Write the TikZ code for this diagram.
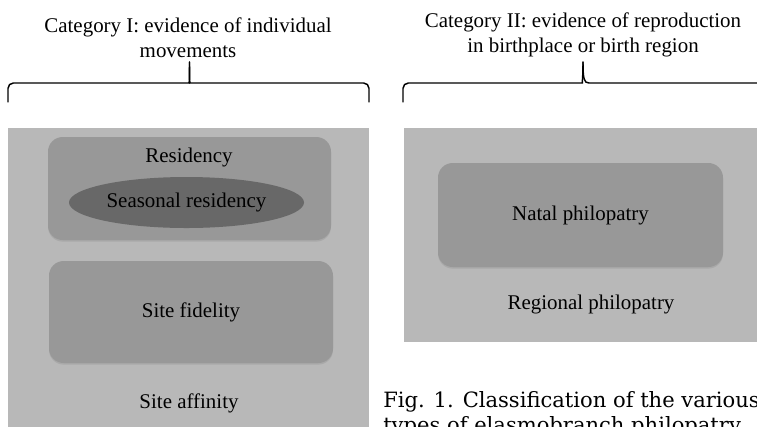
\documentclass[tikz,border=0pt]{standalone}
\usepackage{fontspec}
\setmainfont{Liberation Serif}
\newfontfamily\capfont{DejaVu Serif}
\usetikzlibrary{shadows,shapes.geometric}
\definecolor{panelgray}{RGB}{184,184,184}
\definecolor{boxgray}{RGB}{152,152,152}
\definecolor{ovalgray}{RGB}{104,104,104}
\begin{document}
\begin{tikzpicture}[x=0.75pt,y=-0.75pt,
    panel/.style={fill=panelgray,draw=none,inner sep=0pt},
    roundbox/.style={fill=boxgray,rounded corners=11pt,inner sep=0pt,
      drop shadow={shadow xshift=0pt,shadow yshift=-1.2pt,opacity=0.25}},
    label/.style={font=\fontsize{15.7}{18.8}\selectfont,align=center,inner sep=0pt},
    bracket/.style={line width=1.1pt,line cap=round}]
    \useasboundingbox (0,0) rectangle (757,426);
    \clip (0,0) rectangle (757,426);
    % headings
    \node[label] (headone) at (188,38) {Category I: evidence of individual\\movements};
    \node[label] (headtwo) at (583,35) {Category II: evidence of reproduction\\in birthplace or birth region};
    % braces
    \draw[bracket,rounded corners=4pt] (8,102) -- (8,83) -- (184,83) .. controls (189,83) and (189.5,79) .. (189.5,62);
    \draw[bracket,rounded corners=4pt] (369,102) -- (369,83) -- (195,83) .. controls (190,83) and (189.5,79) .. (189.5,62);
    \draw[bracket,rounded corners=4pt] (403,102) -- (403,83) -- (577,83) .. controls (582,83) and (583,79) .. (583,62);
    \draw[bracket] (800,83) -- (589,83) .. controls (584,83) and (583,79) .. (583,62);
    % category I
    \node[panel,minimum width=361*0.75pt,minimum height=312*0.75pt] (catone) at (188.5,284) {};
    \node[roundbox,minimum width=283*0.75pt,minimum height=103*0.75pt] (residency) at (189.5,188.5) {};
    \node[label] (restext) at (189,157) {Residency};
    \node[ellipse,fill=ovalgray,draw=none,inner sep=0pt,minimum width=235*0.75pt,minimum height=51*0.75pt,
      font=\fontsize{15.7}{18.8}\selectfont] (seasonal) at (186.5,202.5) {Seasonal residency};
    \node[roundbox,minimum width=284*0.75pt,minimum height=102*0.75pt,
      font=\fontsize{15.7}{18.8}\selectfont] (fidelity) at (191,312) {Site fidelity};
    \node[label] (affinity) at (189,403) {Site affinity};
    % category II
    \node[panel,minimum width=376*0.75pt,minimum height=214*0.75pt] (cattwo) at (592,235) {};
    \node[roundbox,minimum width=285*0.75pt,minimum height=104*0.75pt,
      font=\fontsize{15.7}{18.8}\selectfont] (natal) at (580.5,215) {Natal philopatry};
    \node[label] (regional) at (591,304) {Regional philopatry};
    % caption
    \node[anchor=north west,inner sep=0pt,align=left,font=\capfont\fontsize{15.8}{18.8}\selectfont] (caption) at (383,391)
      {Fig. 1. Classification of the various\\types of elasmobranch philopatry};
\end{tikzpicture}
\end{document}
